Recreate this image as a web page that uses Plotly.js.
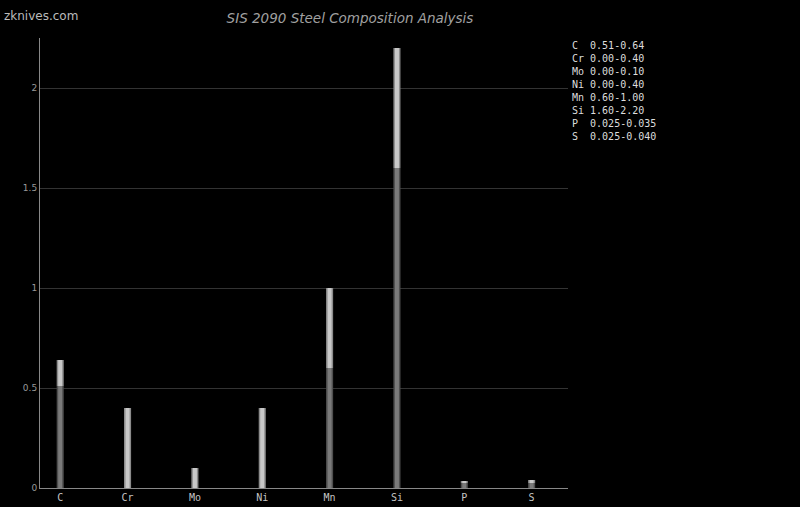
<!DOCTYPE html>
<html><head><meta charset="utf-8">
<script src="https://cdn.plot.ly/plotly-3.0.1.min.js"></script>
<style>html,body{margin:0;padding:0;background:#000;}</style>
</head><body>
<div id="chart" style="width:800px;height:507px;"></div>
<script>
const elements = ["C","Cr","Mo","Ni","Mn","Si","P","S"];
const minVals = [0.51,0.00,0.00,0.00,0.60,1.60,0.025,0.025];
const maxVals = [0.64,0.40,0.10,0.40,1.00,2.20,0.035,0.040];
const rangeLabels = ["0.51-0.64","0.00-0.40","0.00-0.10","0.00-0.40","0.60-1.00","1.60-2.20","0.025-0.035","0.025-0.040"];

const xs = elements.map((_, i) => i);
const spans = maxVals.map((m, i) => m - minVals[i]);

function barTrace(y, base, color, width) {
  return {type:'bar', x: xs, y: y, base: base, width: width,
    marker:{color: color, line:{width:0}}, hoverinfo:'skip', showlegend:false};
}
const zeros = xs.map(() => 0);
const traces = [
  barTrace(minVals, zeros, '#4f4f4f', 0.105),
  barTrace(minVals, zeros, '#7a7a7a', 0.06),
  barTrace(spans, minVals, '#8c8c8c', 0.105),
  barTrace(spans, minVals, '#c8c8c8', 0.06)
];

const legendText = elements.map((e, i) => (e + '  ').slice(0, 3) + rangeLabels[i]).join('<br>');

const layout = {
  width: 800, height: 507,
  paper_bgcolor: '#000', plot_bgcolor: '#000',
  barmode: 'overlay',
  margin: {l: 40, r: 232, t: 38, b: 19},
  title: {text: 'SIS 2090 Steel Composition Analysis', x: 0.4375, xref: 'container', xanchor: 'center', y: 0.964, yref: 'container', yanchor: 'middle',
    font: {family: 'DejaVu Sans', size: 13.5, color: '#a0a0a0', style: 'italic'}},
  xaxis: {range: [-0.3, 7.54], tickvals: xs, ticktext: elements, showgrid: false, zeroline: false,
    showline: true, linecolor: '#888', linewidth: 1, ticks: '',
    tickfont: {family: 'DejaVu Sans Mono', size: 10, color: '#c4c4c4'}},
  yaxis: {range: [0, 2.25], tickvals: [0, 0.5, 1, 1.5, 2], ticktext: ['0','0.5','1','1.5','2'],
    showgrid: true, gridcolor: '#333', gridwidth: 1, zeroline: false,
    showline: true, linecolor: '#888', linewidth: 1, ticks: '',
    tickfont: {family: 'DejaVu Sans', size: 9, color: '#999'}},
  annotations: [
    {text: legendText, xref: 'paper', yref: 'paper', x: 1.004, y: 1.001, xanchor: 'left', yanchor: 'top', align: 'left',
      showarrow: false, font: {family: 'DejaVu Sans Mono', size: 10, color: '#ddd'}},
    {text: 'zknives.com', xref: 'paper', yref: 'paper', x: -0.072, y: 1.048, xanchor: 'left', yanchor: 'middle',
      showarrow: false, font: {family: 'DejaVu Sans', size: 12, color: '#bbb'}}
  ]
};
Plotly.newPlot('chart', traces, layout, {displayModeBar: false, staticPlot: true});
</script>
</body></html>
